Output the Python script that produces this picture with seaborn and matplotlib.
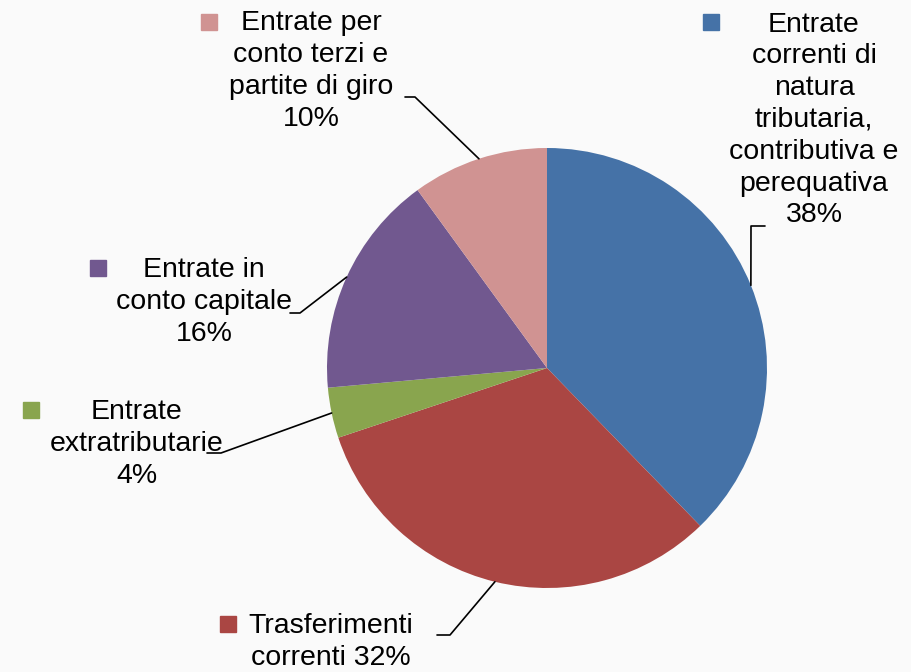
import matplotlib
matplotlib.use('Agg')
import matplotlib.pyplot as plt
import seaborn as sns
import numpy as np

# Composizione delle entrate (percentuali)
categorie = [
    'Entrate\ncorrenti di\nnatura\ntributaria,\ncontributiva e\nperequativa',
    'Trasferimenti\ncorrenti',
    'Entrate\nextratributarie',
    'Entrate in\nconto capitale',
    'Entrate per\nconto terzi e\npartite di giro',
]
percentuali = [37.7, 32.1, 3.7, 16.4, 10.0]
colori = ['#4572A7', '#AA4643', '#89A54E', '#71588F', '#D09392']

# posizione delle etichette (coordinate in pixel, y dall'alto)
etichetta_xy = [(814, 120), (331, 642), (137, 444), (204, 302), (311, 71)]
marker_xy = [(711, 22), (228, 624), (31, 410), (98, 268), (209, 22)]
gomito_xy = [[(765, 226), (751, 226)], [(437, 635), (450, 635)],
             [(207, 453), (221, 453)], [(290, 313), (300, 313)],
             [(405, 97), (415, 97)]]
ultima_riga = [False, True, False, False, False]

W, H = 912, 672
sns.set_theme(style='white')
plt.rcParams['font.family'] = ['Liberation Sans', 'DejaVu Sans']

fig = plt.figure(figsize=(W / 100, H / 100), dpi=100)
fig.patch.set_facecolor('#fafafa')
ax = fig.add_axes([0, 0, 1, 1])

cx, cy, r = 547, H - 368, 220
wedges, _ = ax.pie(percentuali, colors=colori, startangle=90, counterclock=False,
                   center=(cx, cy), radius=r,
                   wedgeprops=dict(linewidth=0))

ax.set_xlim(0, W)
ax.set_ylim(0, H)
ax.axis('off')

for w, cat, p, (tx, ty), (mx, my), gomito, unita in zip(
        wedges, categorie, percentuali, etichetta_xy, marker_xy, gomito_xy, ultima_riga):
    testo = cat + (' ' if unita else '\n') + f'{round(p)}%'
    ax.text(tx, H - ty, testo, ha='center', va='center', fontsize=20.5,
            linespacing=1.29, color='black')
    ax.plot(mx, H - my, marker='s', markersize=11, color=w.get_facecolor(),
            linestyle='none')
    ang = np.deg2rad((w.theta1 + w.theta2) / 2)
    ex, ey = cx + r * np.cos(ang), cy + r * np.sin(ang)
    xs = [gomito[0][0], gomito[1][0], ex]
    ys = [H - gomito[0][1], H - gomito[1][1], ey]
    ax.plot(xs, ys, color='black', linewidth=1.2)

fig.savefig('out.png', dpi=100, facecolor=fig.get_facecolor())
